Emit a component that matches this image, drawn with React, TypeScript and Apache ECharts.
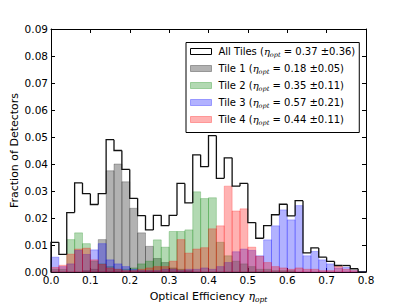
import React, { useEffect, useRef } from "react";
import * as echarts from "echarts";

// Histogram bins: 40 bins of width 0.02 from 0.0 to 0.8
const binStart = 0;
const binWidth = 0.02;

const allTiles = [
  0.011, 0.0065, 0.022, 0.033, 0.029, 0.025, 0.029, 0.049, 0.045, 0.038,
  0.0273, 0.0209, 0.0156, 0.021, 0.0172, 0.021, 0.0328, 0.0256, 0.0434, 0.039,
  0.0505, 0.0347, 0.0423, 0.0318, 0.0328, 0.0183, 0.0125, 0.0172, 0.0212, 0.0251,
  0.0208, 0.0264, 0.0071, 0.0089, 0.0055, 0.0039, 0.0024, 0.0024, 0.0012, 0.0,
];
const tile1 = [
  0, 0, 0, 0, 0.0005, 0.001, 0.012, 0.0375, 0.04, 0.0334,
  0.0236, 0.0145, 0.0095, 0.005, 0.0035, 0.0015, 0.001, 0.0005, 0, 0,
  0, 0, 0, 0, 0, 0, 0, 0, 0, 0,
  0, 0, 0, 0, 0, 0, 0, 0, 0, 0,
];
const tile2 = [
  0.001, 0.001, 0.012, 0.0145, 0.0105, 0.004, 0.003, 0.002, 0.001, 0.001,
  0.0015, 0.003, 0.004, 0.0119, 0.0092, 0.015, 0.015, 0.0156, 0.0297, 0.0272,
  0.0275, 0.011, 0.006, 0.004, 0.003, 0.002, 0.001, 0.001, 0.0005, 0.0005,
  0.0005, 0, 0, 0, 0, 0, 0, 0, 0, 0,
];
const tile3 = [
  0.0055, 0.002, 0.003, 0.008, 0.0065, 0.0082, 0.0105, 0.0045, 0.003, 0.002,
  0.001, 0.0005, 0.0005, 0.0005, 0.001, 0.001, 0.0005, 0.001, 0.001, 0.0015,
  0.001, 0.002, 0.0035, 0.0075, 0.0085, 0.008, 0.006, 0.0119, 0.0171, 0.023,
  0.0193, 0.0246, 0.006, 0.0076, 0.0045, 0.003, 0.0015, 0.0017, 0.0005, 0.0002,
];
const tile4 = [
  0.0017, 0.0025, 0.0066, 0.0085, 0.0088, 0.0045, 0.0028, 0.0015, 0.001, 0.0005,
  0.0005, 0.001, 0.0015, 0.002, 0.002, 0.004, 0.012, 0.007, 0.0085, 0.009,
  0.016, 0.0171, 0.0318, 0.0226, 0.0234, 0.0092, 0.0058, 0.0035, 0.002, 0.0015,
  0.001, 0.0015, 0.001, 0.001, 0.0005, 0.0005, 0.0022, 0.001, 0.0005, 0,
];

const seriesNames = ["All Tiles", "Tile 1", "Tile 2", "Tile 3", "Tile 4"];
const meanVals = ["0.37", "0.18", "0.35", "0.57", "0.44"];
const stdVals = ["0.36", "0.05", "0.11", "0.21", "0.11"];

const tileFills = [
  "rgba(0,0,0,0.3)",
  "rgba(0,128,0,0.3)",
  "rgba(0,0,255,0.3)",
  "rgba(255,0,0,0.3)",
];

const FONT = "DejaVu Sans";

function barData(vals: number[]) {
  return vals.map((v, i) => [binStart + i * binWidth, binStart + (i + 1) * binWidth, v]);
}

function stepData(vals: number[]) {
  return vals.map((v, i) => [
    binStart + i * binWidth,
    binStart + (i + 1) * binWidth,
    v,
    i === 0 ? 0 : vals[i - 1],
    i === vals.length - 1 ? 1 : 0,
  ]);
}

export default function App() {
  const ref = useRef<HTMLDivElement>(null);

  useEffect(() => {
    if (!ref.current) return;
    const chart = echarts.init(ref.current, undefined, { renderer: "svg" });

    const barSeries = [tile1, tile2, tile3, tile4].map((vals, k) => ({
      type: "custom",
      name: seriesNames[k + 1],
      data: barData(vals),
      encode: { x: [0, 1], y: 2 },
      itemStyle: { color: tileFills[k] },
      z: 2 + k,
      renderItem: (params: any, api: any) => {
        const x0 = api.value(0);
        const x1 = api.value(1);
        const v = api.value(2);
        if (!(v > 0)) return null;
        const p0 = api.coord([x0, v]);
        const p1 = api.coord([x1, 0]);
        return {
          type: "rect",
          shape: { x: p0[0], y: p0[1], width: p1[0] - p0[0], height: p1[1] - p0[1] },
          style: { fill: tileFills[k], stroke: tileFills[k], lineWidth: 0.8 },
        };
      },
    }));

    const stepSeries = {
      type: "custom",
      name: seriesNames[0],
      data: stepData(allTiles),
      encode: { x: [0, 1], y: 2 },
      itemStyle: { color: "#fff", borderColor: "#000" },
      z: 10,
      renderItem: (params: any, api: any) => {
        const x0 = api.value(0);
        const x1 = api.value(1);
        const v = api.value(2);
        const prev = api.value(3);
        const last = api.value(4);
        const pts = [api.coord([x0, prev]), api.coord([x0, v]), api.coord([x1, v])];
        if (last) pts.push(api.coord([x1, 0]));
        return {
          type: "polyline",
          shape: { points: pts },
          style: { stroke: "#111", lineWidth: 1.3, fill: null, lineJoin: "miter" },
        };
      },
    };

    const richName = {
      t: { fontFamily: FONT, fontSize: 11, color: "#000", lineHeight: 14 },
      e: { fontFamily: "DejaVu Serif", fontStyle: "italic", fontSize: 11, color: "#000", lineHeight: 14 },
      s: {
        fontFamily: "DejaVu Serif",
        fontStyle: "italic",
        fontSize: 7.5,
        color: "#000",
        lineHeight: 7,
        verticalAlign: "bottom",
      },
    };

    const legendRich = {
      t: { fontFamily: FONT, fontSize: 10, color: "#000", lineHeight: 14 },
      p: { fontFamily: FONT, fontSize: 10, color: "#000", lineHeight: 14, padding: [0, 0, 0, 2] },
      e: { fontFamily: "DejaVu Serif", fontStyle: "italic", fontSize: 10, color: "#000", lineHeight: 14 },
      s: {
        fontFamily: "DejaVu Serif",
        fontStyle: "italic",
        fontSize: 6.5,
        color: "#000",
        lineHeight: 7,
        verticalAlign: "bottom",
      },
    };

    const axisCommon = {
      type: "value",
      splitLine: { show: false },
      axisLine: { show: true, onZero: false, lineStyle: { color: "#000", width: 1 } },
      axisTick: { show: true, inside: true, length: 4, lineStyle: { color: "#000", width: 1 } },
    };

    chart.setOption({
      animation: false,
      backgroundColor: "#fff",
      grid: {
        left: 51,
        right: 41,
        top: 29,
        bottom: 33,
        containLabel: false,
        outerBoundsMode: "none",
      },
      xAxis: [
        {
          ...axisCommon,
          position: "bottom",
          min: 0,
          max: 0.8,
          interval: 0.1,
          axisLabel: {
            margin: 2,
            color: "#000",
            fontFamily: FONT,
            fontSize: 10.5,
            formatter: (v: number) => v.toFixed(1),
          },
          name: "{t|Optical Efficiency }{e|η}{s|opt}",
          nameLocation: "middle",
          nameGap: 17,
          nameMoveOverlap: false,
          nameTextStyle: { rich: richName },
        },
        {
          ...axisCommon,
          position: "top",
          min: 0,
          max: 0.8,
          interval: 0.1,
          axisLabel: { show: false },
        },
      ],
      yAxis: [
        {
          ...axisCommon,
          position: "left",
          min: 0,
          max: 0.09,
          interval: 0.01,
          axisLabel: {
            margin: 3,
            color: "#000",
            fontFamily: FONT,
            fontSize: 10.5,
            formatter: (v: number) => v.toFixed(2),
          },
          name: "Fraction of Detectors",
          nameLocation: "middle",
          nameGap: 31,
          nameMoveOverlap: false,
          nameTextStyle: { fontFamily: FONT, fontSize: 11, color: "#000" },
        },
        {
          ...axisCommon,
          position: "right",
          min: 0,
          max: 0.09,
          interval: 0.01,
          axisLabel: { show: false },
        },
      ],
      legend: {
        orient: "vertical",
        left: 186,
        top: 42.5,
        padding: [4, 4, 6, 4],
        backgroundColor: "#fff",
        borderColor: "#000",
        borderWidth: 1,
        borderRadius: 0,
        itemWidth: 21,
        itemHeight: 6,
        itemGap: 5,
        selectedMode: false,
        data: seriesNames.map((n, i) => ({
          name: n,
          icon: "rect",
          itemStyle:
            i === 0
              ? { color: "#fff", borderColor: "#000", borderWidth: 1 }
              : { color: tileFills[i - 1], borderColor: tileFills[i - 1], borderWidth: 1 },
        })),
        formatter: (name: string) => {
          const i = seriesNames.indexOf(name);
          return `{p|${name} (}{e|η}{s|opt}{t| = ${meanVals[i]} ±${stdVals[i]})}`;
        },
        textStyle: { fontFamily: FONT, fontSize: 10, color: "#000", rich: legendRich },
      },
      series: [...barSeries, stepSeries],
    });

    return () => chart.dispose();
  }, []);

  return (
    <div
      ref={ref}
      style={{ position: "fixed", left: 0, top: 0, width: 407, height: 305, background: "#fff" }}
    />
  );
}
